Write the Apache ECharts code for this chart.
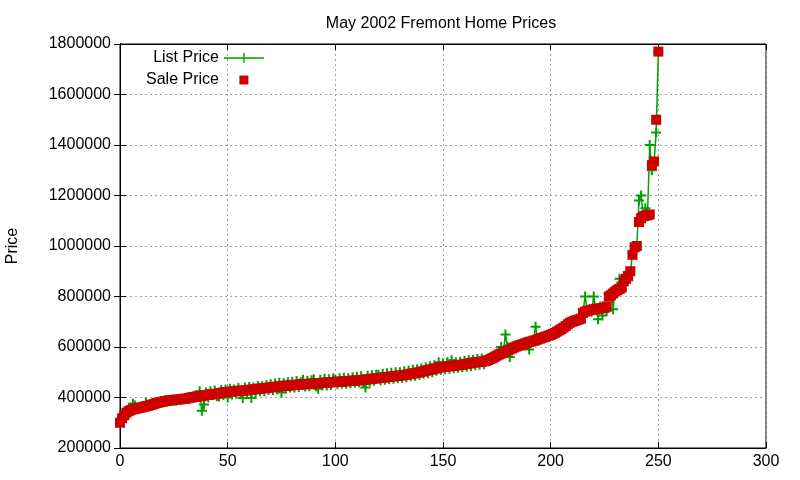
<!DOCTYPE html>
<html>
<head>
<meta charset="utf-8">
<script src="https://cdn.jsdelivr.net/npm/echarts@6/dist/echarts.min.js"></script>
<style>
  html, body { margin: 0; padding: 0; background: #fff; }
  #chart { width: 800px; height: 480px; }
</style>
</head>
<body>
<div id="chart"></div>
<script>
// prices in thousands of dollars, index = house rank (sorted by sale price)
var salePrice = [
  300,318,330,340,346,350,353,355,357,359, 361,363,365,367,370,372,375,378,380,382,
  384,386,387,388,389,390,391,392,393,394, 395,396,398,400,402,403,404,405,407,408,
  410,411,412,413,414,415,416,418,420,421, 422,423,424,425,425,426,427,427,428,429,
  430,431,432,433,434,435,436,437,438,439, 440,441,442,443,444,445,446,447,447,448,
  449,450,450,451,452,452,453,453,454,455, 455,456,456,457,458,458,459,460,460,461,
  462,462,463,463,464,464,465,466,466,467, 468,468,469,470,471,472,473,474,475,476,
  477,478,479,480,481,482,483,484,485,486, 487,488,489,490,492,494,495,497,498,500,
  502,504,506,508,510,512,514,516,518,520, 521,522,523,524,525,526,527,528,529,530,
  532,533,535,536,538,539,540,541,542,543, 545,548,552,556,561,566,570,574,578,582,
  586,590,594,598,602,605,608,611,614,617, 620,622,625,627,630,633,636,639,642,645,
  648,652,656,661,666,671,677,683,690,696, 700,703,706,709,712,735,740,743,745,747,
  749,751,752,753,754,755,760,800,805,812, 820,825,830,835,860,870,880,900,965,995,
  1000,1095,1110,1118,1120,1122,1125,1320,1335,1500, 1770
];
var listPrice = [
  300,320,335,345,350,360,375,368,358,362, 360,365,380,368,372,370,378,380,378,385,
  383,390,385,388,392,390,387,392,395,393, 397,395,398,400,405,400,406,425,348,372,
  420,400,425,410,428,405,404,430,410,432, 400,435,412,432,415,438,418,398,440,418,
  442,398,440,420,446,425,445,425,450,430, 452,430,455,432,458,420,456,436,460,440,
  462,440,465,442,460,470,444,466,445,468, 472,445,435,470,448,474,448,472,450,476,
  470,452,476,454,478,454,476,456,480,458, 482,460,484,462,440,486,464,488,466,490,
  490,468,494,470,496,472,498,474,500,476, 500,478,504,480,506,484,510,486,512,490,
  515,494,520,496,524,500,528,506,540,510, 535,512,540,514,548,516,540,518,542,520,
  545,522,548,524,550,528,552,530,554,532, 548,552,555,560,560,570,565,600,580,650,
  600,560,590,600,605,600,610,605,615,612, 590,620,628,680,625,632,640,635,645,640,
  650,655,650,665,660,675,670,690,685,700, 705,700,710,705,715,740,800,745,750,740,
  800,750,710,760,725,760,745,810,815,750, 830,840,870,830,880,875,898,900,970,1000,
  1000,1180,1200,1120,1150,1130,1400,1300,1330,1450, 1770
];
var xTicks = [0, 50, 100, 150, 200, 250, 300];
var yTicks = [200000, 400000, 600000, 800000, 1000000, 1200000, 1400000, 1600000, 1800000];

var crossIcon = 'path://M4,0 L6,0 L6,4 L10,4 L10,6 L6,6 L6,10 L4,10 L4,6 L0,6 L0,4 L4,4 Z';
var listLegendIcon = 'path://M0,4.3 L40,4.3 L40,5.7 L0,5.7 Z M19.3,0 L20.7,0 L20.7,10 L19.3,10 Z';
var saleLegendIcon = 'path://M0,0 L0.01,0 L0,0.01 Z M15.5,0.5 L24.5,0.5 L24.5,9.5 L15.5,9.5 Z M40,10 L39.99,10 L40,9.99 Z';

var chart = echarts.init(document.getElementById('chart'), null, { renderer: 'canvas' });
var font = 'Liberation Sans, Arial, sans-serif';

var listData = listPrice.map(function (v, i) { return [i, v * 1000]; });
var saleData = salePrice.map(function (v, i) { return [i, v * 1000]; });

var gridStyle = { show: true, lineStyle: { color: '#a0a0a0', type: [2, 3], width: 1 } };

chart.setOption({
  backgroundColor: '#ffffff',
  animation: false,
  textStyle: { fontFamily: font, color: '#000' },
  title: {
    text: 'May 2002 Fremont Home Prices',
    left: 436, top: 11, textAlign: 'center',
    textStyle: { fontFamily: font, fontSize: 16, fontWeight: 'normal', color: '#000' }
  },
  legend: {
    orient: 'vertical',
    left: 141, top: 45,
    align: 'right',
    itemWidth: 40, itemHeight: 10, itemGap: 6,
    textStyle: { fontFamily: font, fontSize: 16, color: '#000' },
    data: [
      { name: 'List Price', icon: listLegendIcon, itemStyle: { color: '#00a000', opacity: 1 } },
      { name: 'Sale Price', icon: saleLegendIcon, itemStyle: { color: '#cc0000', opacity: 1 } }
    ]
  },
  grid: {
    left: 120, right: 34, top: 44, bottom: 32,
    outerBoundsMode: 'none', containLabel: false,
    show: true, borderColor: '#000', borderWidth: 1
  },
  xAxis: [{
    type: 'value', min: xTicks[0], max: xTicks[xTicks.length - 1], interval: 50,
    axisLine: { show: true, lineStyle: { color: '#000' } },
    axisTick: { show: true, inside: true, length: 6, lineStyle: { color: '#000' } },
    axisLabel: { fontFamily: font, fontSize: 16, color: '#000', margin: 6 },
    splitLine: gridStyle
  }, {
    type: 'value', position: 'top', min: xTicks[0], max: xTicks[xTicks.length - 1], interval: 50,
    axisLine: { show: true, lineStyle: { color: '#000' } },
    axisTick: { show: true, inside: true, length: 6, lineStyle: { color: '#000' } },
    axisLabel: { show: false }, splitLine: { show: false }
  }],
  yAxis: [{
    type: 'value', min: yTicks[0], max: yTicks[yTicks.length - 1], interval: 200000,
    name: 'Price', nameLocation: 'middle', nameGap: 99, nameRotate: 90,
    nameTextStyle: { fontFamily: font, fontSize: 16, color: '#000' },
    axisLine: { show: true, lineStyle: { color: '#000' } },
    axisTick: { show: true, inside: true, length: 6, lineStyle: { color: '#000' } },
    axisLabel: { fontFamily: font, fontSize: 16, color: '#000', margin: 9,
      formatter: function (v) { return String(v); } },
    splitLine: gridStyle
  }, {
    type: 'value', position: 'right', min: yTicks[0], max: yTicks[yTicks.length - 1], interval: 200000,
    axisLine: { show: true, lineStyle: { color: '#000' } },
    axisTick: { show: true, inside: true, length: 6, lineStyle: { color: '#000' } },
    axisLabel: { show: false }, splitLine: { show: false }
  }],
  series: [{
    name: 'List Price',
    type: 'line',
    data: listData,
    symbol: crossIcon,
    symbolSize: 10,
    showAllSymbol: true,
    itemStyle: { color: '#00a000', opacity: 1 },
    lineStyle: { color: '#00a000', width: 1.5 },
    z: 2
  }, {
    name: 'Sale Price',
    type: 'scatter',
    data: saleData,
    symbol: 'rect',
    symbolSize: 10,
    itemStyle: { color: '#cc0000', opacity: 1 },
    z: 3
  }]
});
</script>
</body>
</html>
